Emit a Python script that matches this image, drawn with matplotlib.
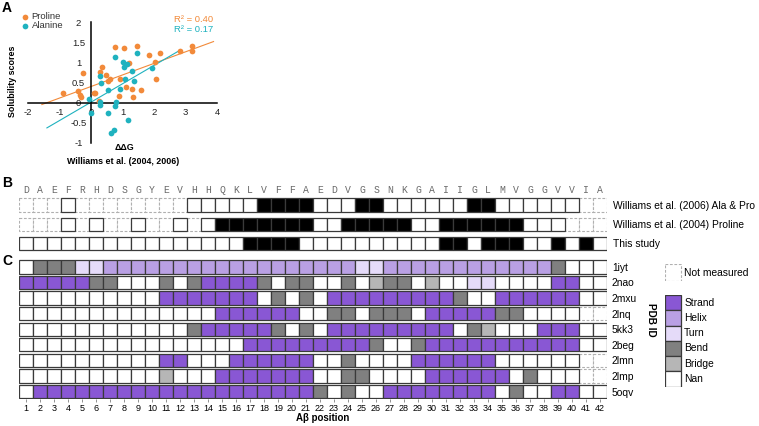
import matplotlib
matplotlib.use('Agg')
import matplotlib.pyplot as plt
from matplotlib.patches import Rectangle
import numpy as np

plt.rcParams['font.family'] = ['Liberation Sans', 'DejaVu Sans']
plt.rcParams['axes.unicode_minus'] = False

W, H = 759, 426
ORANGE = '#f28a3a'
TEAL = '#1fb2bf'

# panel A: solubility score vs ddG
pro_x = [-0.89, -0.42, -0.34, -0.31, -0.25, 0.08, 0.14, 0.24, 0.30, 0.35, 0.49, 0.53, 0.61, 0.77, 0.88,
         0.93, 1.04, 1.20, 1.12, 1.30, 1.33, 1.46, 1.59, 1.83, 2.04, 2.06, 2.18, 2.84, 3.21, 3.21]
pro_y = [0.23, 0.29, 0.18, 0.14, 0.74, 0.23, 0.23, 0.04, 0.77, 0.89, 0.68, 0.53, 0.58, 1.39, 0.16,
         0.58, 1.35, 0.99, 0.38, 0.35, 0.14, 1.41, 0.31, 1.18, 1.02, 0.58, 1.24, 1.29, 1.41, 1.29]
ala_x = [-0.07, 0.0, 0.28, 0.33, 0.30, 0.30, 0.53, 0.53, 0.77, 0.80, 0.77, 0.91, 0.65, 0.74, 1.02,
         1.04, 1.09, 1.14, 1.17, 1.30, 1.35, 1.46, 1.94]
ala_y = [0.08, -0.26, 0.66, 0.49, 0.02, -0.07, 0.31, -0.26, 1.13, 0.02, -0.09, 0.33, -0.76, -0.69, 1.02,
         0.89, 0.58, 0.95, -0.44, 0.79, 0.54, 1.24, 0.85]
# trend lines (slope, intercept, x range) and R2
pro_fit = (0.288, 0.40, [-1.56, 3.89])
ala_fit = (0.458, 0.01, [-1.40, 2.84])
pro_r2 = 'R² = 0.40'
ala_r2 = 'R² = 0.17'
x_ticks = [-2, -1, 0, 1, 2, 3, 4]
y_ticks = [-1, -0.5, 0, 0.5, 1, 1.5, 2]
y_ticklabels = ['-1', '-0.5', '0', '0.5', '1', '1.5', '2']

# panels B/C: per-residue grids, run-length coded (code, count)
sequence = list('DAEFRHDSGYEVHHQKLVFFAEDVGSNKGAIIGLMVGGVVIA')
b_labels = ['Williams et al. (2006) Ala & Pro', 'Williams et al. (2004) Proline', 'This study']
b_rows = [
    [('X', 3), ('W', 1), ('X', 8), ('W', 5), ('K', 4), ('W', 3), ('K', 2), ('W', 6), ('K', 2), ('W', 6), ('X', 2)],
    [('X', 3), ('W', 1), ('X', 1), ('W', 1), ('X', 2), ('W', 1), ('X', 2), ('W', 1), ('X', 1), ('W', 1),
     ('K', 7), ('W', 2), ('K', 5), ('W', 2), ('K', 6), ('W', 3), ('X', 3)],
    [('W', 16), ('K', 4), ('W', 10), ('K', 2), ('W', 1), ('K', 3), ('W', 2), ('K', 1), ('W', 1), ('K', 1), ('W', 1)],
]
pdb_ids = ['1iyt', '2nao', '2mxu', '2lnq', '5kk3', '2beg', '2lmn', '2lmp', '5oqv']
c_rows = [
    [('N', 1), ('B', 3), ('T', 2), ('H', 18), ('T', 2), ('H', 12), ('B', 1), ('N', 3)],
    [('S', 5), ('B', 2), ('N', 3), ('B', 1), ('N', 1), ('B', 1), ('S', 4), ('B', 1), ('N', 1), ('B', 2), ('N', 2),
     ('B', 1), ('N', 1), ('R', 1), ('B', 2), ('N', 1), ('R', 1), ('N', 2), ('T', 2), ('N', 4), ('S', 2), ('N', 2)],
    [('N', 10), ('S', 7), ('N', 1), ('B', 1), ('N', 1), ('B', 1), ('N', 1), ('S', 9), ('B', 1), ('N', 2), ('S', 6), ('N', 2)],
    [('N', 14), ('S', 6), ('N', 2), ('B', 2), ('N', 1), ('B', 3), ('N', 1), ('S', 5), ('B', 2), ('N', 4), ('X', 2)],
    [('N', 12), ('B', 1), ('S', 5), ('B', 1), ('N', 1), ('B', 1), ('N', 1), ('S', 9), ('N', 1), ('B', 1), ('R', 1),
     ('N', 3), ('S', 3), ('N', 2)],
    [('N', 16), ('S', 9), ('B', 1), ('N', 2), ('B', 1), ('S', 11), ('N', 2)],
    [('N', 10), ('S', 2), ('N', 3), ('S', 6), ('N', 2), ('B', 1), ('N', 4), ('S', 6), ('N', 6), ('X', 2)],
    [('N', 10), ('R', 1), ('N', 3), ('S', 7), ('N', 2), ('B', 2), ('N', 4), ('S', 6), ('N', 1), ('B', 1), ('N', 3), ('X', 2)],
    [('N', 1), ('S', 20), ('B', 1), ('N', 1), ('B', 1), ('N', 2), ('S', 8), ('N', 1), ('B', 1), ('N', 2), ('S', 2), ('N', 2)],
]
legend_names = ['Strand', 'Helix', 'Turn', 'Bend', 'Bridge', 'Nan']
legend_codes = ['S', 'H', 'T', 'B', 'R', 'N']
colors = {'W': 'white', 'K': 'black', 'S': '#8957d4', 'H': '#b9a0e4', 'T': '#e5dbf9',
          'B': '#808080', 'R': '#b6b6b6', 'N': 'white'}


def add_ax(fig, x0, y0, x1, y1):
    return fig.add_axes([x0 / W, 1 - y1 / H, (x1 - x0) / W, (y1 - y0) / H])


def expand(runs):
    out = []
    for code, n in runs:
        out.extend([code] * n)
    return out


def draw_rows(ax, rows, cell_h):
    cells = [(r, i, c) for r, runs in enumerate(rows) for i, c in enumerate(expand(runs))]
    # dashed (not measured) first so solid borders sit on top
    for r, i, c in cells:
        if c == 'X':
            ax.add_patch(Rectangle((i + 0.5, r - cell_h / 2), 1, cell_h, fc='white', ec='#b0b0b0',
                                   lw=0.8, ls=(0, (2.5, 1.5))))
    for r, i, c in cells:
        if c != 'X':
            ax.add_patch(Rectangle((i + 0.5, r - cell_h / 2), 1, cell_h, fc=colors[c], ec='#3a3a3a', lw=0.9))
    ax.set_xlim(0.5, len(sequence) + 0.5)
    ax.set_ylim(len(rows) - 0.5, -0.5)
    ax.set_frame_on(False)


fig = plt.figure(figsize=(W / 100, H / 100), dpi=100)

# ---- A ----
axA = add_ax(fig, 28, 22.3, 217, 142.7)
for (slope, inter, xr), col in [(pro_fit, ORANGE), (ala_fit, TEAL)]:
    xs = np.array(xr)
    axA.plot(xs, slope * xs + inter, color=col, lw=0.8, zorder=2)
axA.scatter(pro_x, pro_y, s=17, color=ORANGE, lw=0, zorder=3, clip_on=False, label='Proline')
axA.scatter(ala_x, ala_y, s=17, color=TEAL, lw=0, zorder=4, clip_on=False, label='Alanine')
axA.set_xlim(-2, 4)
axA.set_ylim(-1, 2)
for side in ['top', 'right']:
    axA.spines[side].set_visible(False)
for side in ['left', 'bottom']:
    axA.spines[side].set_position(('data', 0))
    axA.spines[side].set_linewidth(1.1)
axA.set_xticks(x_ticks)
axA.set_yticks(y_ticks)
axA.set_yticklabels(y_ticklabels)
axA.tick_params(length=0, labelsize=6.8, colors='#222222')
axA.tick_params(axis='y', pad=9)
axA.tick_params(axis='x', pad=4)
for lab in axA.get_yticklabels():
    lab.set_ha('center')
axA.patch.set_visible(False)
fig.legend(loc='upper left', bbox_to_anchor=(23 / W, 1 - 12 / H), frameon=False, fontsize=6.8,
           handlelength=0.5, handletextpad=0.4, labelspacing=0.05, borderpad=0, borderaxespad=0,
           labelcolor='#333333')
fig.text(213 / W, 1 - 19 / H, pro_r2, color=ORANGE, fontsize=6.8, ha='right', va='center')
fig.text(213 / W, 1 - 29 / H, ala_r2, color=TEAL, fontsize=6.8, ha='right', va='center')
fig.text(12.5 / W, 1 - 81 / H, 'Solubility scores', rotation=90, fontsize=6.4, fontweight='bold',
         ha='center', va='center')
fig.text(124 / W, 1 - 148 / H, 'ΔΔG', fontsize=6.4, fontweight='bold', ha='center', va='center')
fig.text(123 / W, 1 - 162 / H, 'Williams et al. (2004, 2006)', fontsize=6.4, fontweight='bold',
         ha='center', va='center')

# ---- B ----
axB = add_ax(fig, 19, 195.4, 607, 253.1)
draw_rows(axB, b_rows, 0.70)
axB.xaxis.tick_top()
axB.set_xticks(range(1, len(sequence) + 1))
axB.set_xticklabels(sequence, family='Liberation Mono', fontsize=7, color='#6a6a6a')
axB.tick_params(axis='x', length=0, pad=0.5)
axB.yaxis.tick_right()
axB.set_yticks(range(len(b_labels)))
axB.set_yticklabels(b_labels, fontsize=7.4)
axB.tick_params(axis='y', length=0, pad=4.3)

# ---- C ----
axC = add_ax(fig, 19, 259.1, 607, 399.3)
draw_rows(axC, c_rows, 0.855)
axC.set_xticks(range(1, len(sequence) + 1))
axC.set_xticklabels([str(i) for i in range(1, len(sequence) + 1)], fontsize=6.5)
axC.tick_params(axis='x', length=2.5, width=0.5, color='#666666', pad=1)
axC.yaxis.tick_right()
axC.set_yticks(range(len(pdb_ids)))
axC.set_yticklabels(pdb_ids, fontsize=7.4)
axC.tick_params(axis='y', length=0, pad=3.6)
fig.text(323 / W, 1 - 418 / H, 'Aβ position', fontsize=7, fontweight='bold', ha='center', va='center')
fig.text(651 / W, 1 - 320 / H, 'PDB ID', rotation=-90, fontsize=7.2, fontweight='bold',
         ha='center', va='center')

# legends for B/C
axNM = add_ax(fig, 665, 264, 745, 281)
axNM.add_patch(Rectangle((0, 0), 1, 1, fc='white', ec='#b0b0b0', lw=0.8, ls=(0, (2.5, 1.5))))
axNM.text(1.2, 0.5, 'Not measured', fontsize=7.4, va='center')
axNM.set_xlim(0, 80 / 15.5)
axNM.set_ylim(1.02, -0.02)
axNM.axis('off')

axL = add_ax(fig, 665, 295, 745, 386.5)
for i, (name, code) in enumerate(zip(legend_names, legend_codes)):
    axL.add_patch(Rectangle((0, i), 1, 1, fc=colors[code], ec='#3a3a3a', lw=0.9))
    axL.text(1.2, i + 0.5, name, fontsize=7.4, va='center')
axL.set_xlim(0, 80 / 16)
axL.set_ylim(len(legend_names), 0)
axL.axis('off')

for letter, y in [('A', 8), ('B', 183), ('C', 261)]:
    fig.text(2 / W, 1 - y / H, letter, fontsize=10, fontweight='bold', va='center')

fig.savefig('out.png', dpi=100)
